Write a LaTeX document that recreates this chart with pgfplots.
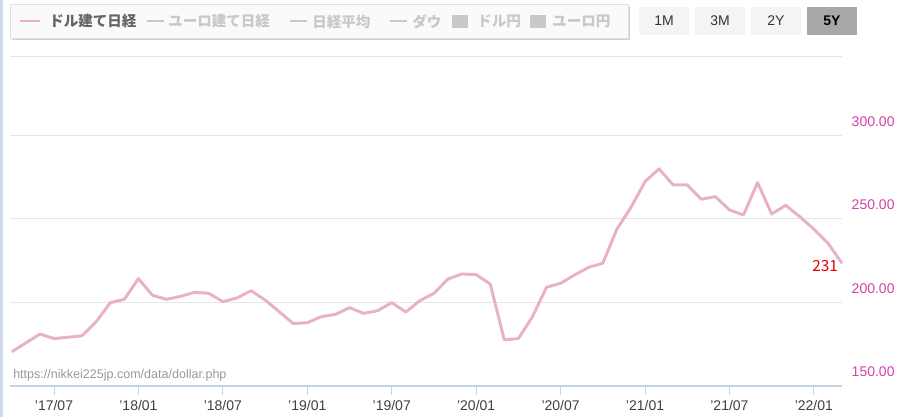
\documentclass[border=0pt]{standalone}
\usepackage{pgfplots}
\pgfplotsset{compat=1.18}
\usepackage{fontspec}
\setmainfont{Liberation Sans}
\newfontfamily\jp{Noto Sans CJK JP}
\definecolor{linepink}{RGB}{232,176,202}
\definecolor{ylab}{RGB}{214,64,170}
\definecolor{axblue}{RGB}{196,210,228}
\definecolor{gridc}{RGB}{230,230,230}
\definecolor{leggray}{RGB}{200,200,200}
\definecolor{btn}{RGB}{244,244,244}
\definecolor{btnsel}{RGB}{168,168,168}
\pgfplotstableread{
m v
-3 170.5
-2 175.8
-1 181.1
0 178.4
1 179.2
2 180.1
3 188.5
4 199.9
5 201.9
6 214.3
7 204.3
8 201.9
9 203.7
10 206.1
11 205.5
12 200.5
13 202.7
14 207.1
15 201.5
16 194.5
17 187.4
18 187.9
19 191.5
20 192.9
21 196.9
22 193.5
23 195.1
24 199.9
25 194.3
26 201.1
27 205.5
28 214.1
29 217.1
30 216.7
31 211.1
32 177.6
33 178.4
34 191.5
35 209.1
36 211.5
37 216.5
38 221.1
39 223.5
40 243.9
41 256.9
42 272.4
43 280.0
44 270.4
45 270.4
46 261.8
47 263.4
48 255.4
49 252.4
50 271.8
51 253.0
52 258.2
53 251.4
54 243.9
55 235.5
56 223.5
}\datatable
\begin{document}
\begin{tikzpicture}
\useasboundingbox (0pt,0pt) rectangle (674.25pt,312.75pt);
\begin{scope}[x=0.75pt,y=-0.75pt,shift={(0pt,312.75pt)}]
\fill[axblue!80] (0,0) rectangle (2.5,417);
% legend box
\fill[black!18] (12,6) rectangle (630,40);
\fill[white!98!black] (10,4) rectangle (628,38);
\draw[black!12] (10,4) rectangle (628,38);
\draw[linepink,line width=2.2pt] (20,21) -- (40,21);
\node[anchor=west,inner sep=0pt,text=black!60] at (49,21.5) {\jp\bfseries\fontsize{10.9pt}{12pt}\selectfont ドル建て日経};
\draw[leggray,line width=2.2pt] (147,21) -- (164,21);
\node[anchor=west,inner sep=0pt,text=leggray] at (168,21.5) {\jp\bfseries\fontsize{10.9pt}{12pt}\selectfont ユーロ建て日経};
\draw[leggray,line width=2.2pt] (290,21) -- (307,21);
\node[anchor=west,inner sep=0pt,text=leggray] at (312,21.5) {\jp\bfseries\fontsize{10.9pt}{12pt}\selectfont 日経平均};
\draw[leggray,line width=2.2pt] (390,21) -- (407,21);
\node[anchor=west,inner sep=0pt,text=leggray] at (412,21.5) {\jp\bfseries\fontsize{10.9pt}{12pt}\selectfont ダウ};
\fill[leggray] (452,15) rectangle (468,28);
\node[anchor=west,inner sep=0pt,text=leggray] at (477,21.5) {\jp\bfseries\fontsize{10.9pt}{12pt}\selectfont ドル円};
\fill[leggray] (530,15) rectangle (546,28);
\node[anchor=west,inner sep=0pt,text=leggray] at (552,21.5) {\jp\bfseries\fontsize{10.9pt}{12pt}\selectfont ユーロ円};
% buttons
\fill[btn] (639,7) rectangle (689,35);
\node[text=black!80] at (664,21) {\fontsize{10.5pt}{12pt}\selectfont 1M};
\fill[btn] (695,7) rectangle (745,35);
\node[text=black!80] at (720,21) {\fontsize{10.5pt}{12pt}\selectfont 3M};
\fill[btn] (751,7) rectangle (801,35);
\node[text=black!80] at (776,21) {\fontsize{10.5pt}{12pt}\selectfont 2Y};
\fill[btnsel] (807,7) rectangle (857,35);
\node[text=black] at (832,21) {\fontsize{10.5pt}{12pt}\selectfont\bfseries 5Y};
% watermark
\node[anchor=west,inner sep=0pt,text=black!40] at (13,375) {\fontsize{9.4pt}{10pt}\selectfont https://nikkei225jp.com/data/dollar.php};
\end{scope}
\begin{axis}[
  at={(7.5pt,23.25pt)}, anchor=south west,
  scale only axis, width=624pt, height=246.75pt,
  xmin=-3.127, xmax=56, ymin=150, ymax=347,
  axis line style={draw=none},
  ytick={150,200,250,300},
  yticklabels={150.00,200.00,250.00,300.00},
  ytick pos=right,
  y tick style={draw=none},
  yticklabel style={text=ylab, font=\fontsize{10.5pt}{12pt}\selectfont, anchor=west, xshift=-3pt, yshift=10.5pt},
  ymajorgrids, grid style={gridc, line width=0.75pt},
  xtick={0,6,12,18,24,30,36,42,48,54},
  xticklabels={'17/07,'18/01,'18/07,'19/01,'19/07,'20/01,'20/07,'21/01,'21/07,'22/01},
  xtick pos=bottom, tick align=outside,
  x tick style={axblue, line width=0.75pt},
  major tick length=6.75pt,
  xticklabel style={text=black!75, font=\fontsize{10.5pt}{12pt}\selectfont, yshift=-0.5pt},
  clip=false,
]
\addplot[linepink, line width=2.2pt, line join=round] table[x=m,y=v] {\datatable};
\draw[axblue, line width=1.1pt] (rel axis cs:0,0) -- (rel axis cs:1,0);
\draw[gridc, line width=0.75pt] (rel axis cs:0,1) -- (rel axis cs:1,1);
\node[text=red!90!black, font=\jp\fontsize{11.5pt}{13pt}\selectfont] at (axis cs:54.8,221.9) {231};
\end{axis}
\end{tikzpicture}
\end{document}
